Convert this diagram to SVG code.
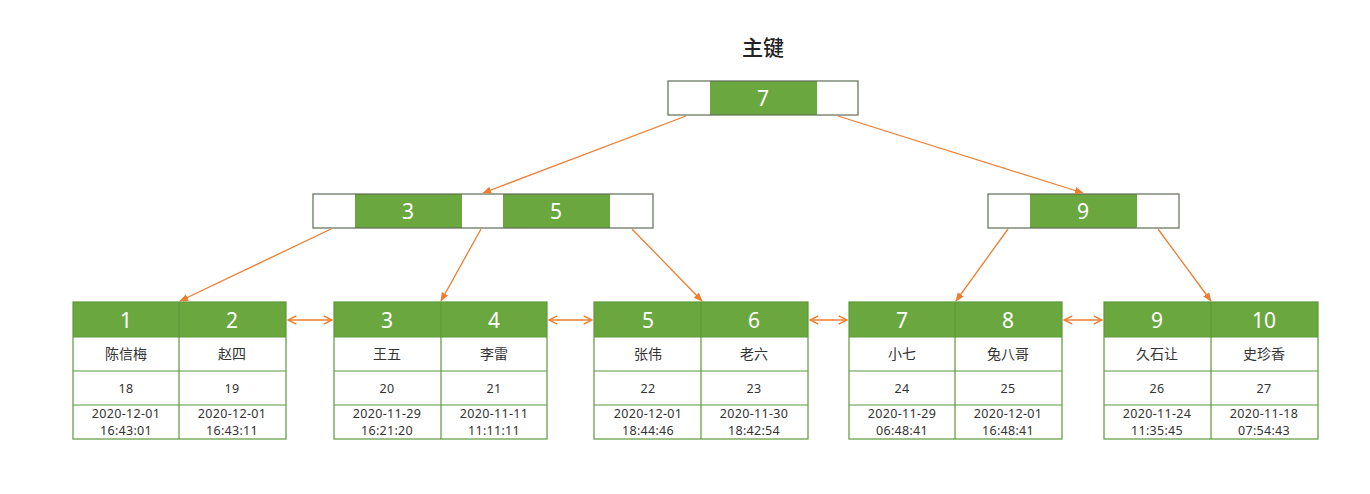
<svg xmlns="http://www.w3.org/2000/svg" width="1370" height="494" viewBox="0 0 1370 494">
<defs>
<style>
.bg{fill:#ffffff}
.g{fill:#6aa83f}
.w{fill:#ffffff}
.nb{fill:none;stroke:#5f6b58;stroke-width:1.2}
.lb{fill:none;stroke:#5a9a3a;stroke-width:1.2}
.ln{stroke:#5a9a3a;stroke-width:1.2}
.k{font-family:"Noto Sans","Liberation Sans",sans-serif;font-size:21px;fill:#ffffff;text-anchor:middle}
.t{font-family:"Noto Sans","Liberation Sans","Noto Sans CJK SC",sans-serif;font-size:14px;fill:#333333;text-anchor:middle}
.d{font-family:"Noto Sans","Liberation Sans",sans-serif;font-size:12.5px;fill:#333333;text-anchor:middle;letter-spacing:0.3px}
.c{stroke:#ed7d31;stroke-width:1.3;fill:none}
.ttl{font-family:"Noto Sans CJK SC",sans-serif;font-size:21px;font-weight:500;fill:#222222;text-anchor:middle}
</style>
<marker id="ah" viewBox="0 0 10 10" refX="9" refY="5" markerWidth="7" markerHeight="7" orient="auto">
<path d="M0,1 L10,5 L0,9 z" fill="#ed7d31"/>
</marker>
<marker id="oh" viewBox="0 0 10 10" refX="9" refY="5" markerWidth="8" markerHeight="8" orient="auto-start-reverse">
<path d="M1,1 L9,5 L1,9" fill="none" stroke="#ed7d31" stroke-width="1.4"/>
</marker>
</defs>
<rect class="bg" x="0" y="0" width="1370" height="494"/>
<text class="ttl" x="763" y="55">主键</text>

<g id="root">
<rect class="g" x="710" y="81" width="107" height="34"/>
<rect class="nb" x="668" y="81" width="190" height="34"/>
<text class="k" x="763" y="106">7</text>
</g>

<g id="inner-left">
<rect class="g" x="355" y="194" width="107" height="34"/>
<rect class="g" x="503" y="194" width="107" height="34"/>
<rect class="nb" x="313" y="194" width="340" height="34"/>
<text class="k" x="408" y="219">3</text>
<text class="k" x="556" y="219">5</text>
</g>

<g id="inner-right">
<rect class="g" x="1030" y="194" width="107" height="34"/>
<rect class="nb" x="988" y="194" width="191" height="34"/>
<text class="k" x="1083" y="219">9</text>
</g>

<g id="leaf1">
<rect class="g" x="73" y="302" width="213" height="35"/>
<rect class="lb" x="73" y="302" width="213" height="137"/>
<line class="ln" x1="73" y1="337" x2="286" y2="337"/><line class="ln" x1="73" y1="371" x2="286" y2="371"/><line class="ln" x1="73" y1="405" x2="286" y2="405"/><line class="ln" x1="179" y1="302" x2="179" y2="439"/>
<text class="k" x="126" y="328">1</text><text class="k" x="232" y="328">2</text>
<text class="t" x="126" y="359">陈信梅</text><text class="t" x="232" y="359">赵四</text>
<text class="d" x="126" y="393">18</text><text class="d" x="232" y="393">19</text>
<text class="d" x="126" y="418">2020-12-01</text><text class="d" x="232" y="418">2020-12-01</text>
<text class="d" x="126" y="435">16:43:01</text><text class="d" x="232" y="435">16:43:11</text>
</g>

<g id="leaf2">
<rect class="g" x="334" y="302" width="213" height="35"/>
<rect class="lb" x="334" y="302" width="213" height="137"/>
<line class="ln" x1="334" y1="337" x2="547" y2="337"/><line class="ln" x1="334" y1="371" x2="547" y2="371"/><line class="ln" x1="334" y1="405" x2="547" y2="405"/><line class="ln" x1="441" y1="302" x2="441" y2="439"/>
<text class="k" x="387" y="328">3</text><text class="k" x="494" y="328">4</text>
<text class="t" x="387" y="359">王五</text><text class="t" x="494" y="359">李雷</text>
<text class="d" x="387" y="393">20</text><text class="d" x="494" y="393">21</text>
<text class="d" x="387" y="418">2020-11-29</text><text class="d" x="494" y="418">2020-11-11</text>
<text class="d" x="387" y="435">16:21:20</text><text class="d" x="494" y="435">11:11:11</text>
</g>

<g id="leaf3">
<rect class="g" x="594" y="302" width="214" height="35"/>
<rect class="lb" x="594" y="302" width="214" height="137"/>
<line class="ln" x1="594" y1="337" x2="808" y2="337"/><line class="ln" x1="594" y1="371" x2="808" y2="371"/><line class="ln" x1="594" y1="405" x2="808" y2="405"/><line class="ln" x1="701" y1="302" x2="701" y2="439"/>
<text class="k" x="648" y="328">5</text><text class="k" x="754" y="328">6</text>
<text class="t" x="648" y="359">张伟</text><text class="t" x="754" y="359">老六</text>
<text class="d" x="648" y="393">22</text><text class="d" x="754" y="393">23</text>
<text class="d" x="648" y="418">2020-12-01</text><text class="d" x="754" y="418">2020-11-30</text>
<text class="d" x="648" y="435">18:44:46</text><text class="d" x="754" y="435">18:42:54</text>
</g>

<g id="leaf4">
<rect class="g" x="849" y="302" width="213" height="35"/>
<rect class="lb" x="849" y="302" width="213" height="137"/>
<line class="ln" x1="849" y1="337" x2="1062" y2="337"/><line class="ln" x1="849" y1="371" x2="1062" y2="371"/><line class="ln" x1="849" y1="405" x2="1062" y2="405"/><line class="ln" x1="955" y1="302" x2="955" y2="439"/>
<text class="k" x="902" y="328">7</text><text class="k" x="1008" y="328">8</text>
<text class="t" x="902" y="359">小七</text><text class="t" x="1008" y="359">兔八哥</text>
<text class="d" x="902" y="393">24</text><text class="d" x="1008" y="393">25</text>
<text class="d" x="902" y="418">2020-11-29</text><text class="d" x="1008" y="418">2020-12-01</text>
<text class="d" x="902" y="435">06:48:41</text><text class="d" x="1008" y="435">16:48:41</text>
</g>

<g id="leaf5">
<rect class="g" x="1104" y="302" width="214" height="35"/>
<rect class="lb" x="1104" y="302" width="214" height="137"/>
<line class="ln" x1="1104" y1="337" x2="1318" y2="337"/><line class="ln" x1="1104" y1="371" x2="1318" y2="371"/><line class="ln" x1="1104" y1="405" x2="1318" y2="405"/><line class="ln" x1="1211" y1="302" x2="1211" y2="439"/>
<text class="k" x="1157" y="328">9</text><text class="k" x="1264" y="328">10</text>
<text class="t" x="1157" y="359">久石让</text><text class="t" x="1264" y="359">史珍香</text>
<text class="d" x="1157" y="393">26</text><text class="d" x="1264" y="393">27</text>
<text class="d" x="1157" y="418">2020-11-24</text><text class="d" x="1264" y="418">2020-11-18</text>
<text class="d" x="1157" y="435">11:35:45</text><text class="d" x="1264" y="435">07:54:43</text>
</g>

<g id="connectors">
<line class="c" x1="686" y1="116" x2="483" y2="193" marker-end="url(#ah)"/>
<line class="c" x1="838" y1="116" x2="1083" y2="193" marker-end="url(#ah)"/>
<line class="c" x1="331" y1="229" x2="180" y2="301" marker-end="url(#ah)"/>
<line class="c" x1="481" y1="229" x2="441" y2="301" marker-end="url(#ah)"/>
<line class="c" x1="632" y1="229" x2="702" y2="301" marker-end="url(#ah)"/>
<line class="c" x1="1008" y1="229" x2="956" y2="301" marker-end="url(#ah)"/>
<line class="c" x1="1158" y1="229" x2="1211" y2="301" marker-end="url(#ah)"/>
<line class="c" x1="288" y1="320" x2="332" y2="320" marker-start="url(#oh)" marker-end="url(#oh)"/>
<line class="c" x1="549" y1="320" x2="592" y2="320" marker-start="url(#oh)" marker-end="url(#oh)"/>
<line class="c" x1="810" y1="320" x2="847" y2="320" marker-start="url(#oh)" marker-end="url(#oh)"/>
<line class="c" x1="1064" y1="320" x2="1102" y2="320" marker-start="url(#oh)" marker-end="url(#oh)"/>
</g>
</svg>
